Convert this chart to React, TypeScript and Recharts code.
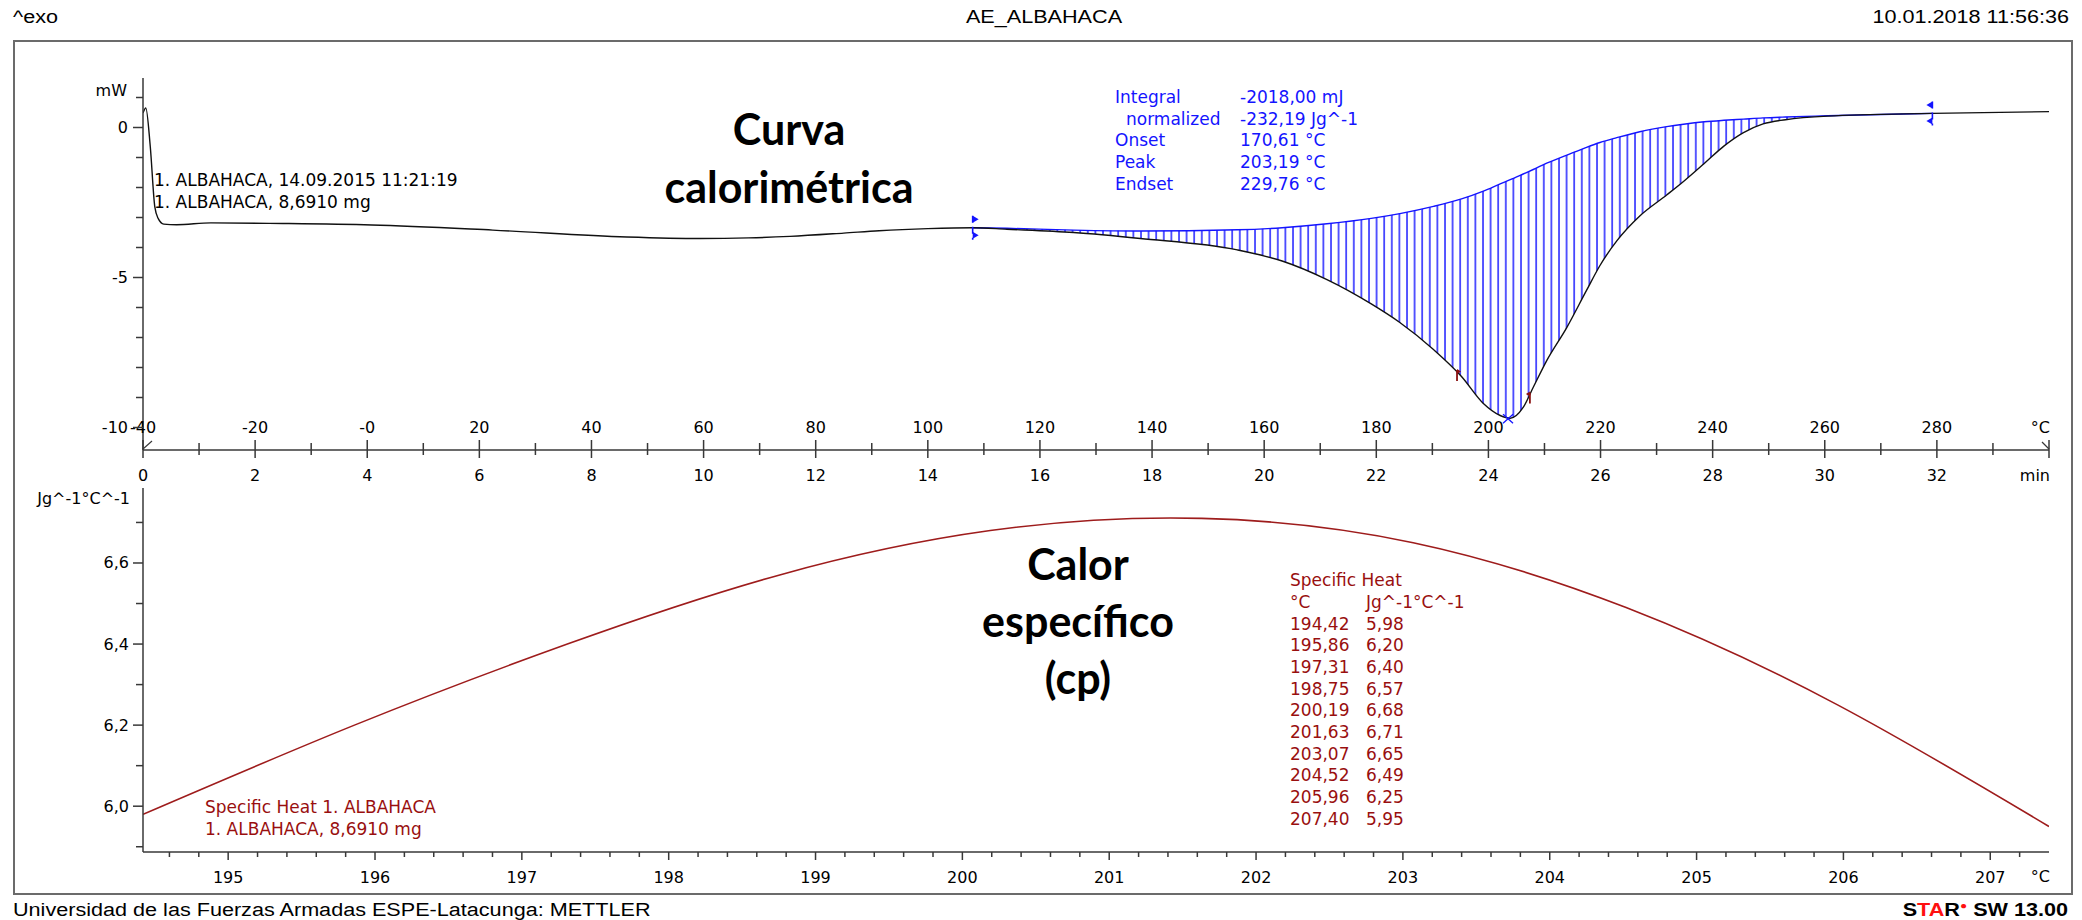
import React from "react";
import { Area, ComposedChart, Line, LineChart, ReferenceDot, XAxis, YAxis } from "recharts";

// DSC run: time in min, heat flow in mW (baseline only inside the integration window)
const dscTime = [0, 0.05, 0.13, 0.21, 0.27, 0.37, 0.6, 1.21, 2.5, 4.08, 6.24, 8.63, 9.94, 10.8, 11.54, 12.5, 13.13, 14.0, 14.8, 15.41, 16.6, 17.79, 19.52, 20.32, 21.12, 21.91, 22.42, 23.02, 23.52, 23.91, 24.21, 24.39, 24.62, 24.8, 25.04, 25.4, 25.75, 25.99, 26.29, 26.7, 27.18, 27.48, 27.85, 28.2, 28.55, 28.9, 29.3, 30.05, 31.92, 34.0];
const dscFlow = [0.48, 0.65, -0.64, -2.64, -3.03, -3.22, -3.24, -3.18, -3.2, -3.25, -3.42, -3.65, -3.7, -3.68, -3.63, -3.52, -3.44, -3.37, -3.34, -3.39, -3.5, -3.7, -4.08, -4.45, -5.07, -5.88, -6.5, -7.4, -8.3, -9.2, -9.6, -9.69, -9.33, -8.66, -7.77, -6.66, -5.43, -4.6, -3.78, -2.95, -2.25, -1.8, -1.2, -0.62, -0.17, 0.12, 0.26, 0.38, 0.47, 0.53];
const baseFlow = [null, null, null, null, null, null, null, null, null, null, null, null, null, null, null, null, null, null, -3.34, -3.36, -3.42, -3.45, -3.41, -3.34, -3.21, -3.03, -2.87, -2.63, -2.38, -2.12, -1.88, -1.74, -1.55, -1.4, -1.19, -0.92, -0.66, -0.5, -0.34, -0.14, 0.03, 0.11, 0.19, 0.24, 0.28, 0.32, 0.35, 0.39, 0.47, null];

const intLimits = [{ t: 14.8, v: -3.34 }, { t: 31.92, v: 0.47 }];
const cpLimits = [{ t: 23.44, v: -8.15 }, { t: 24.74, v: -8.9 }];
const peakMark = [{ t: 24.35, v: -9.69 }];

const minTicks = [0, 1, 2, 3, 4, 5, 6, 7, 8, 9, 10, 11, 12, 13, 14, 15, 16, 17, 18, 19, 20, 21, 22, 23, 24, 25, 26, 27, 28, 29, 30, 31, 32, 33, 34];
const minLabels = ["0", "2", "4", "6", "8", "10", "12", "14", "16", "18", "20", "22", "24", "26", "28", "30", "32"];
const tempLabels = ["-40", "-20", "-0", "20", "40", "60", "80", "100", "120", "140", "160", "180", "200", "220", "240", "260", "280"];
const flowTicks = [-10, -9, -8, -7, -6, -5, -4, -3, -2, -1, 0, 1];
const flowMajor = [-10, -5, 0];
const flowLabels = ["-10", "-5", "0"];

const integralRows = [
  ["Integral", "-2018,00 mJ"],
  ["normalized", "-232,19 Jg^-1"],
  ["Onset", "170,61 °C"],
  ["Peak", "203,19 °C"],
  ["Endset", "229,76 °C"],
];

// specific heat evaluation
const cpTemp = [194.42, 195.86, 197.31, 198.75, 200.19, 201.63, 203.07, 204.52, 205.96, 207.4];
const cpValue = [5.98, 6.2, 6.4, 6.57, 6.68, 6.71, 6.65, 6.49, 6.25, 5.95];
const cpMajor = [195, 196, 197, 198, 199, 200, 201, 202, 203, 204, 205, 206, 207];
const cpYTicks = [5.9, 6.0, 6.1, 6.2, 6.3, 6.4, 6.5, 6.6, 6.7];
const cpYMajor = [6.0, 6.2, 6.4, 6.6];
const cpYLabels = ["6,0", "6,2", "6,4", "6,6"];

const dscRows = dscTime.map((t, i) => ({ t, flow: dscFlow[i], base: baseFlow[i] }));
const cpRows = cpTemp.map((temp, i) => ({ temp, cp: cpValue[i] }));
const cpXTicks: number[] = [];
for (let k = 973; k <= 1036; k++) cpXTicks.push(k / 5);

const AXIS = "#383838";
const TAHOMA = "'DejaVu Sans', Verdana, sans-serif";
const ARIAL = "'Liberation Sans', Arial, sans-serif";
const BOLDFONT = "Lato, 'Open Sans', sans-serif";
const BLUE = "#1414ff";
const DARKRED = "#990f0f";
const fmt = (n: number) => n.toFixed(2).replace(".", ",");

const lbl = { fontFamily: TAHOMA, fontSize: 16, fill: "#000" };

function MinTick(props: any) {
  const { x, y, payload } = props;
  const v = payload.value;
  const major = v % 2 === 0;
  const idx = v % 2 === 0 ? v / 2 : -1;
  return (
    <g>
      <line x1={x} x2={x} y1={y - (major ? 10 : 7)} y2={y + (major ? 8 : 5)} stroke={AXIS} strokeWidth={1.5} />
      {idx >= 0 && idx < tempLabels.length && (
        <text x={x} y={y - 23} textAnchor="middle" dominantBaseline="central" {...lbl}>{tempLabels[idx]}</text>
      )}
      {idx >= 0 && idx < minLabels.length && (
        <text x={x} y={y + 25} textAnchor="middle" dominantBaseline="central" {...lbl}>{minLabels[idx]}</text>
      )}
      {v === 0 && <line x1={x} y1={y - 1} x2={x + 9} y2={y - 9} stroke={AXIS} strokeWidth={1.2} />}
      {v === 34 && (
        <g>
          <line x1={x - 7} y1={y - 8} x2={x} y2={y - 1} stroke={AXIS} strokeWidth={1.2} />
          <text x={x + 1} y={y - 23} textAnchor="end" dominantBaseline="central" {...lbl}>°C</text>
          <text x={x + 1} y={y + 25} textAnchor="end" dominantBaseline="central" {...lbl}>min</text>
        </g>
      )}
    </g>
  );
}

function FlowTick(props: any) {
  const { x, y, payload } = props;
  const v = payload.value;
  const idx = flowMajor.indexOf(v);
  return (
    <g>
      <line x1={x - (idx >= 0 ? 10 : 7)} x2={x} y1={y} y2={y} stroke={AXIS} strokeWidth={1.5} />
      {idx >= 0 && <text x={x - 15} y={y} textAnchor="end" dominantBaseline="central" {...lbl}>{flowLabels[idx]}</text>}
      {v === 1 && <text x={x - 16} y={y - 7} textAnchor="end" dominantBaseline="central" {...lbl}>mW</text>}
    </g>
  );
}

function TempTick(props: any) {
  const { x, y, payload } = props;
  const v = payload.value;
  const idx = cpMajor.indexOf(Math.round(v * 5) % 5 === 0 ? Math.round(v) : -1);
  return (
    <g>
      <line x1={x} x2={x} y1={y} y2={y + (idx >= 0 ? 8 : 5)} stroke={AXIS} strokeWidth={1.5} />
      {idx >= 0 && <text x={x} y={y + 25} textAnchor="middle" dominantBaseline="central" {...lbl}>{String(cpMajor[idx])}</text>}
    </g>
  );
}

function CpTick(props: any) {
  const { x, y, payload } = props;
  const v = payload.value;
  const idx = cpYMajor.findIndex((m) => Math.abs(m - v) < 1e-6);
  return (
    <g>
      <line x1={x - (idx >= 0 ? 10 : 7)} x2={x} y1={y} y2={y} stroke={AXIS} strokeWidth={1.5} />
      {idx >= 0 && <text x={x - 14} y={y} textAnchor="end" dominantBaseline="central" {...lbl}>{cpYLabels[idx]}</text>}
    </g>
  );
}

function LimitMark({ cx, cy, dir }: any) {
  const tri = (y0: number) => `${cx},${y0} ${cx + 6 * dir},${y0 + 3.5} ${cx},${y0 + 7}`;
  return (
    <g>
      <line x1={cx} x2={cx} y1={cy - 12} y2={cy + 12} stroke={BLUE} strokeWidth={1.6} strokeDasharray="7 4" />
      <polygon points={tri(cy - 12)} fill={BLUE} />
      <polygon points={tri(cy + 4)} fill={BLUE} />
    </g>
  );
}

function FlagMark({ cx, cy, dir }: any) {
  return (
    <g>
      <line x1={cx} x2={cx} y1={cy - 2} y2={cy + 9} stroke="#8a1010" strokeWidth={1.8} />
      <polygon points={`${cx},${cy - 3} ${cx + 4 * dir},${cy - 0.5} ${cx},${cy + 2}`} fill="#8a1010" />
    </g>
  );
}

function PeakMark({ cx, cy }: any) {
  return (
    <g stroke={BLUE} strokeWidth={1.3}>
      <line x1={cx - 5} y1={cy - 4} x2={cx + 5} y2={cy + 5} />
      <line x1={cx - 5} y1={cy + 5} x2={cx + 5} y2={cy - 4} />
    </g>
  );
}

function Txt({ x, y, children, anchor = "start", font = TAHOMA, size = 17, color = "#000", weight = 400, stretch = 1 }: any) {
  const shift = anchor === "middle" ? "-50%" : anchor === "end" ? "-100%" : "0";
  const origin = anchor === "middle" ? "center center" : anchor === "end" ? "right center" : "left center";
  return (
    <div
      style={{
        position: "absolute",
        left: x,
        top: y,
        transform: `translate(${shift}, -50%) scaleX(${stretch})`,
        transformOrigin: origin,
        whiteSpace: "pre",
        lineHeight: 1,
        fontFamily: font,
        fontSize: size,
        fontWeight: weight,
        color,
      }}
    >
      {children}
    </div>
  );
}

export default function App() {
  return (
    <div style={{ position: "absolute", left: 0, top: 0, width: 2082, height: 920, background: "#fff", overflow: "hidden" }}>
      <div style={{ position: "absolute", left: 13, top: 40, width: 2060, height: 855, border: "2px solid #6b6b6b", boxSizing: "border-box" }} />

      <div style={{ position: "absolute", left: 0, top: 0 }}>
        <ComposedChart width={2082} height={500} data={dscRows} margin={{ top: 78, right: 33, bottom: 10, left: 0 }}>
          <defs>
            <pattern id="hatch" patternUnits="userSpaceOnUse" width={7.6} height={12}>
              <line x1={1} y1={0} x2={1} y2={12} stroke="#2020ff" strokeWidth={1.5} />
            </pattern>
          </defs>
          <XAxis
            dataKey="t"
            type="number"
            domain={[0, 34]}
            ticks={minTicks}
            interval={0}
            allowDataOverflow
            height={40}
            tickSize={0}
            tickMargin={0}
            tickLine={false}
            axisLine={{ stroke: AXIS, strokeWidth: 1.5 }}
            tick={MinTick}
          />
          <YAxis
            type="number"
            domain={[-10.75, 1.65]}
            ticks={flowTicks}
            interval={0}
            allowDataOverflow
            width={143}
            tickSize={0}
            tickMargin={0}
            tickLine={false}
            axisLine={{ stroke: AXIS, strokeWidth: 1.5 }}
            tick={FlowTick}
          />
          <Area
            type="monotone"
            dataKey={(d: any) => (d.base == null ? null : [d.base, d.flow])}
            stroke="none"
            fill="url(#hatch)"
            fillOpacity={1}
            isAnimationActive={false}
            connectNulls={false}
          />
          <Line type="monotone" dataKey="base" stroke={BLUE} strokeWidth={1.4} dot={false} isAnimationActive={false} connectNulls={false} />
          <Line type="monotone" dataKey="flow" stroke="#111" strokeWidth={1.4} dot={false} isAnimationActive={false} />
          {intLimits.map((m, i) => (
            <ReferenceDot key={"l" + i} x={m.t} y={m.v} shape={(p: any) => <LimitMark {...p} dir={i === 0 ? 1 : -1} />} />
          ))}
          {cpLimits.map((m, i) => (
            <ReferenceDot key={"c" + i} x={m.t} y={m.v} shape={(p: any) => <FlagMark {...p} dir={i === 0 ? 1 : -1} />} />
          ))}
          {peakMark.map((m, i) => (
            <ReferenceDot key={"p" + i} x={m.t} y={m.v} shape={(p: any) => <PeakMark {...p} />} />
          ))}
        </ComposedChart>
      </div>

      <div style={{ position: "absolute", left: 0, top: 440 }}>
        <LineChart width={2082} height={460} data={cpRows} margin={{ top: 48, right: 33, bottom: 8, left: 0 }}>
          <XAxis
            dataKey="temp"
            type="number"
            domain={[194.42, 207.4]}
            ticks={cpXTicks}
            interval={0}
            allowDataOverflow
            height={40}
            tickSize={0}
            tickMargin={0}
            tickLine={false}
            axisLine={{ stroke: AXIS, strokeWidth: 1.5 }}
            tick={TempTick}
          />
          <YAxis
            type="number"
            domain={[5.887, 6.785]}
            ticks={cpYTicks}
            interval={0}
            allowDataOverflow
            width={143}
            tickSize={0}
            tickMargin={0}
            tickLine={false}
            axisLine={{ stroke: AXIS, strokeWidth: 1.5 }}
            tick={CpTick}
          />
          <Line type="natural" dataKey="cp" stroke="#9e1c1c" strokeWidth={1.6} dot={false} isAnimationActive={false} />
        </LineChart>
      </div>

      {/* page header / footer */}
      <Txt x={13} y={17} font={ARIAL} size={18} stretch={1.2}>^exo</Txt>
      <Txt x={1044} y={17} anchor="middle" font={ARIAL} size={18} stretch={1.2}>AE_ALBAHACA</Txt>
      <Txt x={2069} y={17} anchor="end" font={ARIAL} size={18} stretch={1.2}>10.01.2018 11:56:36</Txt>
      <Txt x={13} y={910} font={ARIAL} size={18} stretch={1.2}>Universidad de las Fuerzas Armadas ESPE-Latacunga: METTLER</Txt>
      <Txt x={2068} y={910} anchor="end" font={ARIAL} size={18} stretch={1.2} weight={700}>
        <span>S</span>
        <span style={{ color: "#ff1010" }}>TA</span>
        <span>R</span>
        <span style={{ color: "#ff1010", fontSize: 10, verticalAlign: "super" }}>●</span>
        <span> SW 13.00</span>
      </Txt>

      {/* upper chart annotations */}
      <Txt x={154} y={180}>1. ALBAHACA, 14.09.2015 11:21:19</Txt>
      <Txt x={154} y={202}>1. ALBAHACA, 8,6910 mg</Txt>
      <Txt x={789} y={128} anchor="middle" font={BOLDFONT} size={43} weight={700}>Curva</Txt>
      <Txt x={789} y={186} anchor="middle" font={BOLDFONT} size={43} weight={700}>calorimétrica</Txt>
      {integralRows.map((r, i) => (
        <React.Fragment key={r[0]}>
          <Txt x={i === 1 ? 1126 : 1115} y={97 + i * 21.7} color={BLUE}>{r[0]}</Txt>
          <Txt x={1240} y={97 + i * 21.7} color={BLUE}>{r[1]}</Txt>
        </React.Fragment>
      ))}

      {/* lower chart annotations */}
      <Txt x={130} y={499} anchor="end" size={16}>Jg^-1°C^-1</Txt>
      <Txt x={2050} y={877} anchor="end" size={16}>°C</Txt>
      <Txt x={1078} y={563} anchor="middle" font={BOLDFONT} size={43} weight={700}>Calor</Txt>
      <Txt x={1078} y={620} anchor="middle" font={BOLDFONT} size={43} weight={700}>específico</Txt>
      <Txt x={1078} y={677} anchor="middle" font={BOLDFONT} size={43} weight={700}>(cp)</Txt>
      <Txt x={1290} y={580} color={DARKRED}>Specific Heat</Txt>
      <Txt x={1290} y={602} color={DARKRED}>°C</Txt>
      <Txt x={1366} y={602} color={DARKRED}>Jg^-1°C^-1</Txt>
      {cpTemp.map((t, i) => (
        <React.Fragment key={t}>
          <Txt x={1290} y={623.5 + i * 21.7} color={DARKRED}>{fmt(t)}</Txt>
          <Txt x={1366} y={623.5 + i * 21.7} color={DARKRED}>{fmt(cpValue[i])}</Txt>
        </React.Fragment>
      ))}
      <Txt x={205} y={807} color={DARKRED}>Specific Heat 1. ALBAHACA</Txt>
      <Txt x={205} y={829} color={DARKRED}>1. ALBAHACA, 8,6910 mg</Txt>
    </div>
  );
}
